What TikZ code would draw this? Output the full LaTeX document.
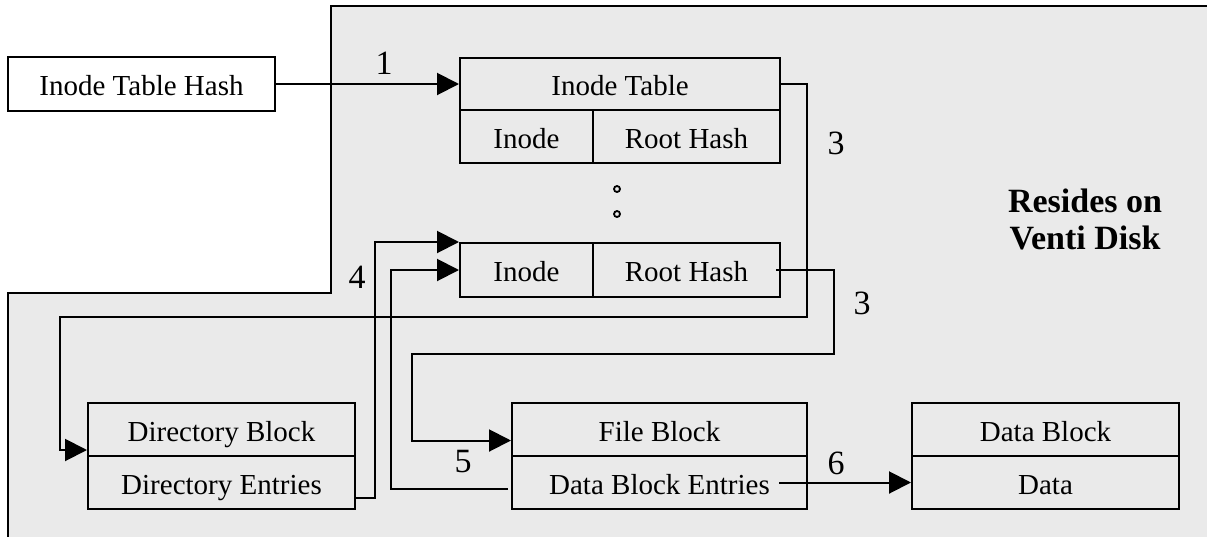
\documentclass[tikz,border=0pt]{standalone}
\usepackage{fontspec}
\setmainfont{Liberation Serif}
\usetikzlibrary{arrows.meta}
\definecolor{bggray}{HTML}{EAEAEA}
\begin{document}
\begin{tikzpicture}[x=1pt,y=-1pt,line width=2pt,
  box/.style={draw,fill=bggray,inner sep=0pt,font=\fontsize{29}{34}\selectfont,text height=23pt,text depth=0pt},
  num/.style={inner sep=0pt,font=\fontsize{34}{40}\selectfont},
  arr/.style={-{Triangle[length=22pt,width=22pt]}},
  dotc/.style={draw,circle,inner sep=0pt,minimum size=6pt,line width=1.8pt}]
\useasboundingbox (0,0) rectangle (1207,536);
% region residing on Venti disk
\fill[bggray] (331,6) -- (1210,6) -- (1210,540) -- (8,540) -- (8,293) -- (331,293) -- cycle;
\draw (1210,6) -- (331,6) -- (331,293) -- (8,293) -- (8,540);
% boxes
\node[box,fill=white,minimum width=267pt,minimum height=54pt] (ith) at (141.5,84) {Inode Table Hash};
\node[box,minimum width=320pt,minimum height=52pt] (it) at (620,84) {Inode Table};
\node[box,minimum width=133pt,minimum height=53pt] (ia1) at (526.5,136.5) {Inode};
\node[box,minimum width=187pt,minimum height=53pt] (ia2) at (686.5,136.5) {Root Hash};
\node[dotc] (d1) at (617,189) {};
\node[dotc] (d2) at (617,214) {};
\node[box,minimum width=133pt,minimum height=54pt] (ib1) at (526.5,270) {Inode};
\node[box,minimum width=187pt,minimum height=54pt] (ib2) at (686.5,270) {Root Hash};
\node[box,minimum width=267pt,minimum height=53pt] (db) at (221.5,429.5) {Directory Block};
\node[box,minimum width=267pt,minimum height=53pt] (de) at (221.5,482.5) {Directory Entries};
\node[box,minimum width=295pt,minimum height=53pt] (fb1) at (659.5,429.5) {File Block};
\node[box,minimum width=295pt,minimum height=53pt] (fb2) at (659.5,482.5) {Data Block Entries};
\node[box,minimum width=267pt,minimum height=53pt] (dk) at (1045.5,429.5) {Data Block};
\node[box,minimum width=267pt,minimum height=53pt] (dd) at (1045.5,482.5) {Data};
\node[inner sep=0pt,align=center,font=\fontsize{34}{37}\selectfont\bfseries] (venti) at (1085,219) {Resides on\\Venti Disk};
% connectors
\draw[arr] (ith.east) -- (it.west);
\draw[arr] (it.east) -- ++(26,0) |- (60,317) |- ([yshift=7pt]db.south west);
\draw[arr] ([xshift=-5pt]ib2.east) -- ++(58,0) |- (412,354) |- ([yshift=-11pt]fb1.west);
\draw[arr] ([yshift=-15pt]de.east) -- ++(19,0) |- (ib1.north west);
\draw[arr] ([xshift=-3pt,yshift=-6pt]fb2.west) -- ++(-117,0) |- (ib1.west);
\draw[arr] ([xshift=-29pt]fb2.east) -- (dd.west);
% labels
\node[num] (l1) at (384,63) {1};
\node[num] (l3a) at (836,143) {3};
\node[num] (l3b) at (862,303) {3};
\node[num] (l4) at (357,277) {4};
\node[num] (l5) at (463,462) {5};
\node[num] (l6) at (836,463) {6};
\end{tikzpicture}
\end{document}
